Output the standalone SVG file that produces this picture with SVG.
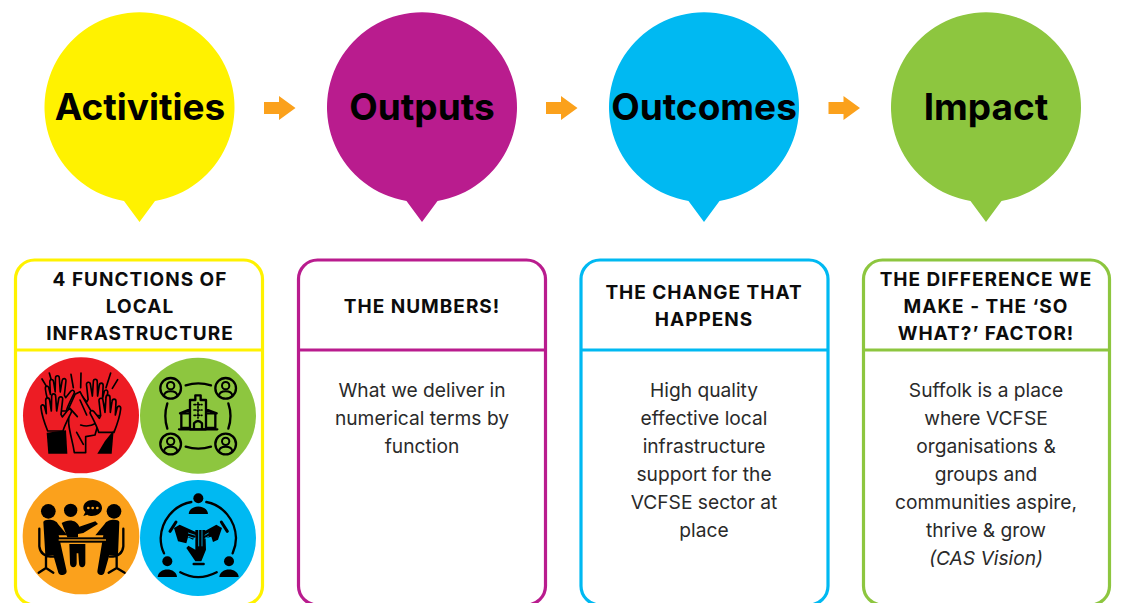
<svg xmlns="http://www.w3.org/2000/svg" xmlns:xlink="http://www.w3.org/1999/xlink" width="1122" height="603" viewBox="0 0 1122 603">
<style>
text{font-family:Inter,"Liberation Sans",sans-serif;text-anchor:middle;fill:#000}
.t{font-size:37px;font-weight:700}
.h{font-size:19px;font-weight:700;letter-spacing:1px;fill:#0c0c0c}
.b{font-size:19.2px;font-weight:400;fill:#2a2a2a}
.card{fill:#fff;stroke-width:3.2}
.div{stroke-width:3}
.k{fill:none;stroke:#000;stroke-width:7;stroke-linecap:round;stroke-linejoin:round}
.s{fill:#000}
.hd{fill:#ed1c24;stroke:#000;stroke-width:5;stroke-linejoin:round}
.ln{fill:none;stroke:#000;stroke-width:5;stroke-linecap:round;stroke-linejoin:round}
</style>
<defs>
<polygon id="arr" points="264,102 279,102 279,96 295.500,108 279,120 279,114 264,114" fill="#fba11c"/>
<path id="bub" d="M124,201A95,95 0 1 1 155,201L139.500,222Z"/>
<path id="hand" d="M-22,0C-32,-25 -40,-50 -42,-70C-43,-80 -33,-82 -31,-72L-26,-52L-28,-92C-28,-102 -17,-102 -16,-92L-11,-60L-10,-104C-10,-114 2,-114 2,-104L5,-60L11,-96C12,-105 24,-104 23,-95L18,-50L22,-42L38,-62C45,-70 53,-62 48,-54C36,-30 28,-15 24,0Z"/>
<g id="person"><circle r="31" fill="none" stroke="#000" stroke-width="7"/><circle cy="-8" r="11" fill="none" stroke="#000" stroke-width="6"/><path d="M-20,22C-18,4 18,4 20,22" fill="none" stroke="#000" stroke-width="6"/></g>
<g id="bust"><circle cy="-25" r="15" class="s"/><path d="M-29,22C-27,-8 27,-8 29,22Z" class="s"/></g>
</defs>
<rect width="1122" height="603" fill="#fff"/>
<g id="connectors">
<use xlink:href="#arr" href="#arr"/>
<use xlink:href="#arr" href="#arr" x="282"/>
<use xlink:href="#arr" href="#arr" x="564.500"/>
</g>
<g id="node-activities">
<use xlink:href="#bub" href="#bub" fill="#fff200"/>
<text class="t" x="140" y="120">Activities</text>
<rect class="card" x="15.500" y="260" width="247" height="345" rx="19" stroke="#fff200"/>
<line class="div" x1="15" y1="350" x2="263" y2="350" stroke="#fff200"/>
<text class="h" x="140" y="286">4 FUNCTIONS OF</text>
<text class="h" x="140" y="313">LOCAL</text>
<text class="h" x="140" y="340">INFRASTRUCTURE</text>
</g>
<g id="node-outputs">
<use xlink:href="#bub" href="#bub" x="282.500" fill="#b91c8e"/>
<text class="t" x="422" y="120">Outputs</text>
<rect class="card" x="298.500" y="260" width="247" height="345" rx="19" stroke="#b91c8e"/>
<line class="div" x1="298" y1="350" x2="546" y2="350" stroke="#b91c8e"/>
<text class="h" x="422" y="313">THE NUMBERS!</text>
<text class="b" x="422" y="397">What we deliver in</text>
<text class="b" x="422" y="425">numerical terms by</text>
<text class="b" x="422" y="453">function</text>
</g>
<g id="node-outcomes">
<use xlink:href="#bub" href="#bub" x="564.500" fill="#00b9f2"/>
<text class="t" x="704" y="120">Outcomes</text>
<rect class="card" x="581" y="260" width="247" height="345" rx="19" stroke="#00b9f2"/>
<line class="div" x1="581" y1="350" x2="828" y2="350" stroke="#00b9f2"/>
<text class="h" x="704" y="299">THE CHANGE THAT</text>
<text class="h" x="704" y="326">HAPPENS</text>
<text class="b" x="704" y="397">High quality</text>
<text class="b" x="704" y="425">effective local</text>
<text class="b" x="704" y="453">infrastructure</text>
<text class="b" x="704" y="481">support for the</text>
<text class="b" x="704" y="509">VCFSE sector at</text>
<text class="b" x="704" y="537">place</text>
</g>
<g id="node-impact">
<use xlink:href="#bub" href="#bub" x="846.500" fill="#8dc63f"/>
<text class="t" x="986" y="120">Impact</text>
<rect class="card" x="863.500" y="260" width="246" height="345" rx="19" stroke="#8dc63f"/>
<line class="div" x1="863" y1="350" x2="1110" y2="350" stroke="#8dc63f"/>
<text class="h" x="986" y="286">THE DIFFERENCE WE</text>
<text class="h" x="986" y="313">MAKE - THE ‘SO</text>
<text class="h" x="986" y="340">WHAT?’ FACTOR!</text>
<text class="b" x="986" y="397">Suffolk is a place</text>
<text class="b" x="986" y="425">where VCFSE</text>
<text class="b" x="986" y="453">organisations &amp;</text>
<text class="b" x="986" y="481">groups and</text>
<text class="b" x="986" y="509">communities aspire,</text>
<text class="b" x="986" y="537">thrive &amp; grow</text>
<text class="b" x="986" y="565" font-style="italic">(CAS Vision)</text>
</g>
<g id="icon-hands" transform="translate(20 355) scale(.33333)">
<circle cx="183" cy="181" r="174" fill="#ed1c24"/>
<use xlink:href="#hand" href="#hand" class="hd" transform="translate(116 168) scale(.95)"/>
<use xlink:href="#hand" href="#hand" class="hd" transform="translate(222 182) scale(-.98 .98)"/>
<path class="hd" d="M163,293C158,258 150,240 146,205L146,160L165,118L180,110C195,140 215,170 235,205L225,240L197,245L197,293Z"/>
<path class="ln" d="M182,210Q205,218 228,205M170,232L190,268M150,160L172,185M180,135L200,180"/>
<use xlink:href="#hand" href="#hand" class="hd" transform="translate(105 228)"/>
<use xlink:href="#hand" href="#hand" class="hd" transform="translate(260 232) scale(-1 1)"/>
<polygon class="s" points="80,233 138,226 142,296 85,296"/>
<polygon class="s" points="232,296 275,296 281,226 255,258"/>
<path class="ln" d="M66,72L78,92M88,54L93,72M153,58L160,98M183,54L182,98M272,54L258,98M293,74L277,100"/>
</g>
<g id="icon-network" transform="translate(10 350) scale(.33333)">
<circle cx="564" cy="197" r="174" fill="#8dc63f"/>
<use xlink:href="#person" href="#person" x="482" y="115"/>
<use xlink:href="#person" href="#person" x="647" y="115"/>
<use xlink:href="#person" href="#person" x="482" y="282"/>
<use xlink:href="#person" href="#person" x="647" y="282"/>
<path d="M527,106Q565,94 603,106M527,290Q565,302 603,290M472,160Q460,198 472,236M655,160Q668,198 655,236" class="k"/>
<path d="M540,238V150H556V136H572V150H588V238ZM540,190H514V234H540M588,190H616V234H588M510,190L540,178M620,190L588,178M552,238V220Q564,206 576,220V238" class="k"/>
<path d="M552,164H576M552,180H576M552,196H576M564,158V204" class="k" style="stroke-width:5;stroke-dasharray:6 5"/>
<path d="M507,238H622" class="k"/>
</g>
<g id="icon-meeting" transform="translate(20 478) scale(.33333)">
<circle cx="183" cy="174" r="175" fill="#fba11c"/>
<circle cx="85" cy="100" r="22" class="s"/><circle cx="152" cy="97" r="20" class="s"/><circle cx="282" cy="100" r="22" class="s"/>
<path d="M70,132C72,122 108,122 114,138L142,172H116L140,280C140,294 118,294 115,284L100,232H76Z" class="s"/>
<path d="M298,132C296,122 262,122 254,138L226,172H250L232,280C232,294 250,294 253,284L268,232H294Z" class="s"/>
<path d="M125,135C145,122 170,125 178,146L226,130L234,138L190,165L174,168V178H142Z" class="s"/>
<rect x="110" y="178" width="154" height="16" class="s"/>
<rect x="116" y="184" width="142" height="4" fill="#fba11c"/>
<path d="M148,198H196V256C196,272 177,272 177,256L175,226H170V256C170,272 150,272 150,256Z" class="s"/>
<path d="M58,152V205C60,225 75,236 100,236M78,236V270M56,284L78,270L100,284M310,152V205C308,225 295,236 270,236M290,236V270M266,284L290,270L314,284" class="k"/>
<path d="M218,66C236,66 246,78 246,90C246,106 230,114 216,114C211,114 206,113 202,110L190,114L196,102C191,97 190,93 190,89C190,76 202,66 218,66Z" class="s"/>
<circle cx="205" cy="90" r="4" fill="#fba11c"/><circle cx="218" cy="90" r="4" fill="#fba11c"/><circle cx="232" cy="90" r="4" fill="#fba11c"/>
</g>
<g id="icon-collab" transform="translate(138 478) scale(.33333)">
<circle cx="180" cy="180" r="174" fill="#00b9f2"/>
<use xlink:href="#bust" href="#bust" x="181" y="86"/>
<use xlink:href="#bust" href="#bust" x="88" y="275"/>
<use xlink:href="#bust" href="#bust" x="273" y="275"/>
<path d="M160,72C105,82 70,130 68,180C68,198 72,214 78,226M205,72C255,82 292,125 294,180C294,198 290,212 284,226M127,283Q180,312 236,283" class="k"/>
<path d="M96,160L114,132M250,132L268,160" class="k" style="stroke-width:9"/>
<path d="M108,150L125,140L180,165L165,185L150,178L145,196L120,190Z" class="s"/>
<path d="M252,150L235,140L190,165L205,180L220,176L225,192L240,185Z" class="s"/>
<path d="M172,156H202L204,215L190,250H172L145,210L151,203L172,215Z" class="s"/>
<path d="M167,258H197" class="k"/>
<path d="M182,156V205M192,156V205M150,165L172,172M150,175L172,182M212,165L200,172M212,175L200,182" stroke="#00b9f2" stroke-width="2.500"/>
</g>
</svg>
